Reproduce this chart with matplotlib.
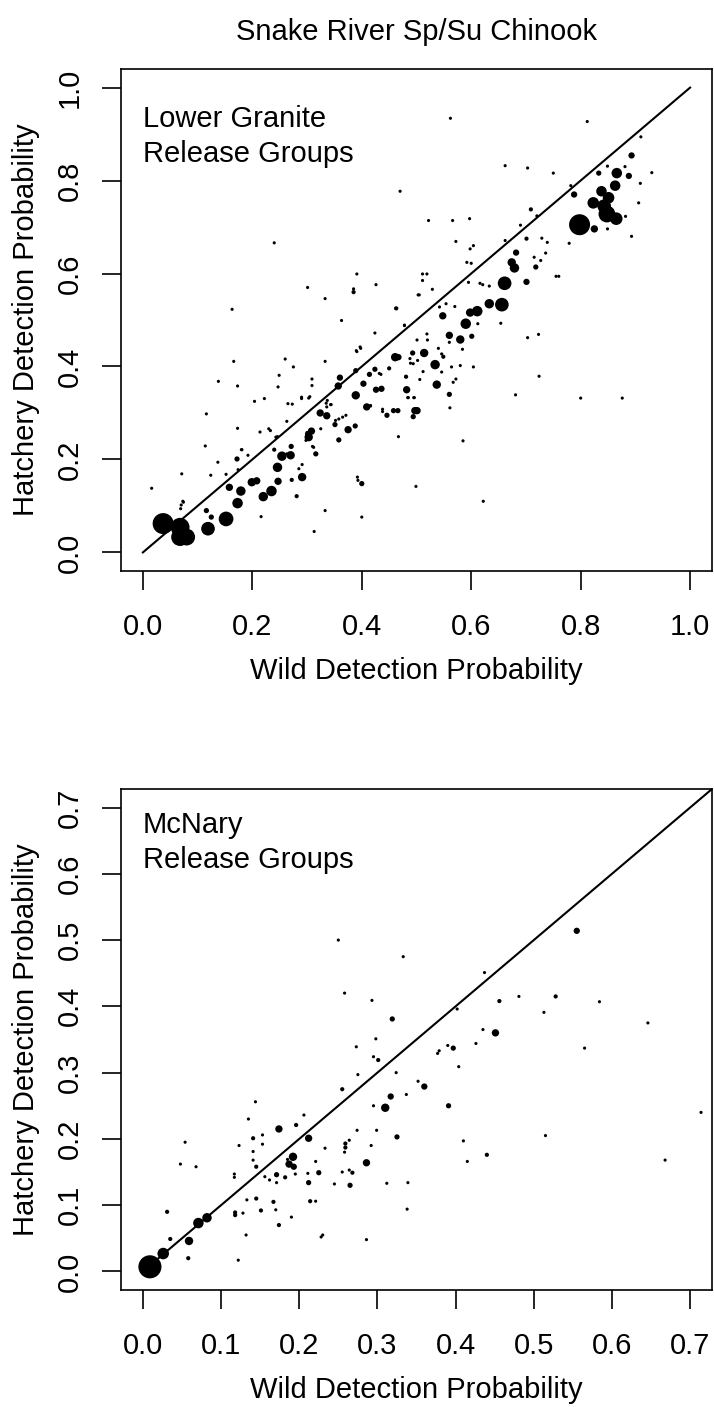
import matplotlib
matplotlib.use("Agg")
import matplotlib.pyplot as plt
import numpy as np

plt.rcParams['font.family'] = ['Liberation Sans', 'DejaVu Sans']

# ---------------- data: Lower Granite release groups ----------------
lgr_wild = [0.037,0.068,0.068,0.080,0.119,0.152,0.116,0.125,0.173,0.179,0.158,0.220,0.235,0.199,0.208,0.247,0.246,0.254,0.270,0.271,
            0.291,0.281,0.272,0.285,0.172,0.192,0.152,0.174,0.303,0.308,0.300,0.316,0.312,0.324,0.336,0.336,0.325,0.351,0.358,0.375,
            0.388,0.357,0.389,0.389,0.403,0.414,0.424,0.432,0.409,0.416,0.446,0.438,0.426,0.436,0.450,0.461,0.467,0.458,0.466,0.482,
            0.481,0.493,0.497,0.494,0.488,0.484,0.495,0.400,0.393,0.216,0.333,0.313,0.400,0.467,0.499,0.016,0.071,0.070,0.073,0.116,
            0.114,0.137,0.124,0.138,0.166,0.163,0.173,0.173,0.181,0.204,0.222,0.214,0.233,0.246,0.247,0.249,0.260,0.275,0.265,0.273,
            0.290,0.309,0.309,0.305,0.333,0.363,0.462,0.424,0.478,0.390,0.398,0.360,0.335,0.343,0.352,0.358,0.240,0.263,0.291,0.298,
            0.263,0.180,0.230,0.243,0.290,0.303,0.391,0.397,0.337,0.344,0.365,0.371,0.435,0.416,0.438,0.480,0.489,0.485,0.496,0.392,
            0.069,0.074,0.299,0.310,
            0.656,0.633,0.611,0.598,0.590,0.548,0.560,0.580,0.601,0.514,0.534,0.537,0.560,0.501,0.549,0.564,0.604,0.561,0.584,0.612,
            0.654,0.703,0.723,0.724,0.681,0.800,0.876,0.585,0.622,0.478,0.519,0.520,0.501,0.506,0.512,0.540,0.546,0.580,0.560,0.546,
            0.567,0.572,0.502,0.494,
            0.798,0.825,0.848,0.865,0.843,0.823,0.851,0.838,0.863,0.866,0.888,0.893,0.833,0.788,0.782,0.893,0.906,0.909,0.930,0.910,
            0.812,0.562,0.662,0.703,0.750,0.709,0.720,0.690,0.522,0.566,0.597,0.572,0.662,0.701,0.682,0.674,0.679,0.661,0.701,0.718,
            0.755,0.470,0.240,0.391,0.426,0.385,0.385,0.301,0.333,0.463,0.503,0.849,0.882,0.881,0.849,0.604,0.598,0.729,0.739,0.779,
            0.715,0.727,0.736,0.760,0.595,0.616,0.621,0.633,0.592,0.600,0.511,0.519,0.511,0.529,0.505,0.554,0.570,0.542]
lgr_hatch = [0.062,0.054,0.033,0.033,0.051,0.072,0.090,0.076,0.106,0.132,0.140,0.120,0.132,0.151,0.154,0.153,0.183,0.207,0.209,0.228,
             0.162,0.121,0.156,0.180,0.201,0.209,0.168,0.178,0.248,0.261,0.258,0.212,0.226,0.300,0.294,0.313,0.266,0.275,0.242,0.264,
             0.272,0.358,0.338,0.391,0.363,0.383,0.394,0.385,0.313,0.315,0.295,0.303,0.350,0.352,0.396,0.420,0.420,0.305,0.305,0.350,
             0.378,0.429,0.305,0.292,0.417,0.333,0.333,0.148,0.155,0.077,0.090,0.045,0.076,0.249,0.142,0.138,0.169,0.102,0.110,0.298,
             0.229,0.194,0.166,0.368,0.411,0.523,0.358,0.267,0.221,0.325,0.331,0.259,0.262,0.249,0.356,0.381,0.416,0.399,0.320,0.319,
             0.334,0.359,0.373,0.335,0.411,0.499,0.525,0.472,0.488,0.434,0.439,0.376,0.321,0.318,0.284,0.287,0.221,0.282,0.189,0.241,
             0.212,0.221,0.266,0.248,0.331,0.332,0.432,0.442,0.327,0.318,0.291,0.295,0.383,0.316,0.308,0.378,0.407,0.333,0.333,0.162,
             0.094,0.108,0.255,0.228,
             0.533,0.535,0.519,0.516,0.492,0.509,0.467,0.458,0.465,0.429,0.404,0.361,0.340,0.305,0.421,0.399,0.399,0.311,0.437,0.492,
             0.493,0.462,0.469,0.379,0.339,0.332,0.332,0.240,0.110,0.489,0.470,0.457,0.457,0.372,0.389,0.439,0.427,0.402,0.452,0.388,
             0.366,0.373,0.413,0.406,
             0.705,0.696,0.728,0.718,0.745,0.752,0.763,0.777,0.789,0.816,0.810,0.854,0.816,0.770,0.789,0.680,0.752,0.794,0.817,0.894,
             0.927,0.934,0.832,0.827,0.816,0.738,0.724,0.704,0.714,0.714,0.718,0.669,0.671,0.675,0.645,0.624,0.612,0.579,0.582,0.614,
             0.594,0.777,0.666,0.599,0.576,0.560,0.567,0.570,0.546,0.525,0.554,0.696,0.723,0.830,0.831,0.660,0.653,0.676,0.667,0.665,
             0.635,0.628,0.644,0.594,0.581,0.579,0.576,0.573,0.624,0.622,0.599,0.599,0.585,0.566,0.554,0.535,0.529,0.528]
# relative release-group size (marker diameter class)
lgr_n = [20,18,17,16,13,14,5,5,10,9,7,9,10,8,7,7,9,9,8,5,
         8,4,4,3,5,3,3,3,8,7,3,5,3,7,7,3,3,5,5,7,
         5,7,8,5,6,5,5,3,7,3,5,3,6,6,4,8,6,5,5,7,
         4,5,7,5,3,3,3,5,3,3,3,3,3,3,3,3,3,3,3,3,
         3,3,3,3,3,3,3,3,3,3,3,3,3,3,3,3,3,3,3,3,
         3,3,3,3,3,3,3,3,3,3,3,6,3,3,3,3,4,3,3,3,
         3,3,3,3,3,3,3,3,3,3,3,3,3,3,3,3,3,3,3,3,
         3,3,3,3,
         13,9,10,8,10,7,7,8,5,8,9,8,5,7,4,3,3,3,3,3,
         3,3,3,3,3,3,3,3,3,3,3,3,3,3,3,3,3,3,3,3,
         3,3,3,3,
         20,7,16,12,13,11,11,10,10,10,6,6,5,6,3,3,3,3,3,3,
         3,3,3,3,3,4,3,3,3,3,3,3,3,4,6,8,9,13,6,5,
         3,3,3,3,3,4,3,3,3,4,3,3,3,3,3,3,3,3,3,3,
         3,3,3,3,3,3,3,3,3,3,3,3,3,3,3,3,3,3]

# ---------------- data: McNary release groups ----------------
mcn_wild = [0.009,0.026,0.059,0.071,0.082,0.035,0.031,0.058,0.048,0.054,0.068,0.122,0.117,0.117,0.118,0.118,0.128,0.132,0.133,0.123,
            0.135,0.144,0.141,0.153,0.153,0.141,0.141,0.145,0.145,0.151,0.156,0.162,0.167,0.170,0.171,0.171,0.174,0.174,0.182,0.187,
            0.192,0.193,0.185,0.195,0.190,0.196,0.206,0.212,0.212,0.211,0.214,0.221,0.221,0.225,0.233,0.228,0.230,0.245,0.255,0.255,
            0.259,0.259,0.264,0.258,0.268,0.264,0.265,0.273,0.275,0.274,0.286,0.286,0.292,0.293,0.295,0.301,0.298,0.295,0.299,0.310,
            0.317,0.319,0.324,0.325,0.337,0.338,0.339,0.312,0.352,0.451,0.456,0.435,0.426,0.402,0.397,0.390,0.377,0.379,0.404,0.360,
            0.391,0.410,0.415,0.440,0.515,0.513,0.565,0.584,0.646,0.668,0.714,0.555,0.437,0.333,0.481,0.528,0.250,0.258]
mcn_hatch = [0.007,0.027,0.046,0.073,0.081,0.049,0.090,0.020,0.162,0.195,0.158,0.017,0.147,0.142,0.089,0.085,0.088,0.055,0.108,0.190,
             0.230,0.256,0.201,0.206,0.192,0.181,0.168,0.158,0.110,0.092,0.143,0.138,0.105,0.093,0.146,0.134,0.215,0.070,0.142,0.162,
             0.173,0.158,0.169,0.147,0.082,0.221,0.236,0.201,0.134,0.148,0.106,0.106,0.166,0.149,0.186,0.052,0.055,0.132,0.150,0.275,
             0.187,0.193,0.198,0.180,0.149,0.153,0.130,0.339,0.297,0.213,0.164,0.048,0.190,0.409,0.324,0.319,0.351,0.250,0.213,0.247,
             0.264,0.381,0.300,0.203,0.267,0.094,0.134,0.133,0.287,0.360,0.408,0.365,0.344,0.396,0.337,0.341,0.329,0.333,0.309,0.279,
             0.250,0.197,0.166,0.176,0.205,0.391,0.337,0.407,0.375,0.168,0.240,0.514,0.451,0.475,0.415,0.415,0.500,0.420]
mcn_n = [22,11,8,10,9,4,4,4,3,3,3,3,3,3,4,4,3,3,3,3,
         3,3,4,3,3,3,3,4,4,4,3,3,4,3,5,3,7,4,4,7,
         8,6,3,3,3,4,3,7,5,3,4,3,3,5,3,3,3,3,3,4,
         4,4,3,3,4,3,5,3,3,3,7,3,3,3,3,4,3,3,3,8,
         6,5,3,5,3,3,3,3,3,7,4,3,3,3,5,3,3,3,3,6,
         5,3,3,4,3,3,3,3,3,3,3,6,3,3,3,4,3,3]

title = "Snake River Sp/Su Chinook"
x_label = "Wild Detection Probability"
y_label = "Hatchery Detection Probability"
lgr_ticks = [0.0, 0.2, 0.4, 0.6, 0.8, 1.0]
mcn_ticks = [0.0, 0.1, 0.2, 0.3, 0.4, 0.5, 0.6, 0.7]

W, H = 714, 1407
fig = plt.figure(figsize=(W/100, H/100), dpi=100)
FS = 21

def make_axes(top_px, bot_px):
    return fig.add_axes([121/W, 1 - bot_px/H, (712-121)/W, (bot_px-top_px)/H])

def size_to_s(n):
    d = np.asarray(n, dtype=float) * 1.05 * 0.72   # px -> points
    return d**2

def style(ax, ticks, lim, label1, label2, top_px, bot_px):
    ax.set_xlim(lim)
    ax.set_ylim(lim)
    ax.set_xticks(ticks)
    ax.set_yticks(ticks)
    ax.set_xticklabels([f"{t:.1f}" for t in ticks])
    ax.set_yticklabels([f"{t:.1f}" for t in ticks])
    for s in ax.spines.values():
        s.set_linewidth(1.2)
    ax.tick_params(axis='both', direction='out', length=13.5, width=1.2, labelsize=FS)
    ax.tick_params(axis='x', pad=17)
    ax.tick_params(axis='y', pad=13, labelrotation=90)
    for lbl in ax.get_yticklabels():
        lbl.set_va('center')
    ax.text(0.0372, label1[0], label1[1], transform=ax.transAxes, fontsize=FS, va='baseline', ha='left')
    ax.text(0.0372, label2[0], label2[1], transform=ax.transAxes, fontsize=FS, va='baseline', ha='left')
    cy = 1 - (top_px + bot_px) / 2 / H
    fig.text(26/W, cy, y_label, rotation=90, ha='center', va='center', fontsize=FS)
    fig.text(416.5/W, 1 - (bot_px + 100)/H, x_label, ha='center', va='center', fontsize=FS)

# top panel
ax1 = make_axes(69, 571)
ax1.plot([0, 1], [0, 1], color='black', lw=1.5, zorder=1)
ax1.scatter(lgr_wild, lgr_hatch, s=size_to_s(lgr_n), c='black', linewidths=0, zorder=2)
style(ax1, lgr_ticks, (-0.04, 1.04), (0.8845, "Lower Granite"), (0.8153, "Release Groups"), 69, 571)

# bottom panel
ax2 = make_axes(789, 1290)
ax2.plot([0, 0.75], [0, 0.75], color='black', lw=1.5, zorder=1)
ax2.scatter(mcn_wild, mcn_hatch, s=size_to_s(mcn_n), c='black', linewidths=0, zorder=2)
style(ax2, mcn_ticks, (-0.028, 0.728), (0.912, "McNary"), (0.842, "Release Groups"), 789, 1290)

fig.text(416.5/W, 1 - 32/H, title, ha='center', va='center', fontsize=FS)

fig.savefig("out.png", dpi=100)
